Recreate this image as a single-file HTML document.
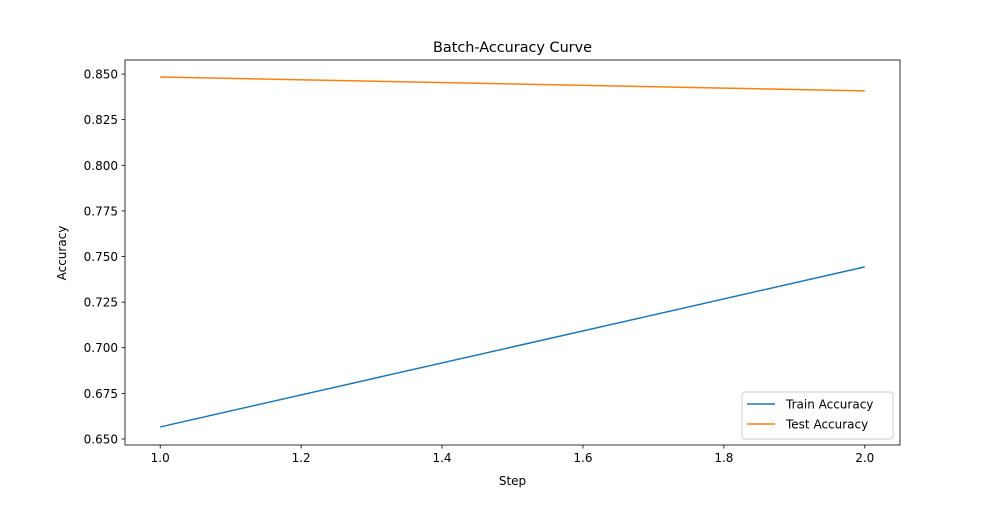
<!DOCTYPE html>
<html><head><meta charset="utf-8"><style>
body{margin:0;background:#fff;}
svg text{font-family:"DejaVu Sans","Liberation Sans",sans-serif;}
</style></head><body>
<svg width="1000" height="500" id="chart" xmlns="http://www.w3.org/2000/svg">
<rect width="1000" height="500" fill="#fff"/>
<g id="plot"></g>
</svg>
<script>
const steps=[1,2];
const trainAcc=[0.6566,0.7443];
const testAcc=[0.8484,0.8408];
const xTicks=[1.0,1.2,1.4,1.6,1.8,2.0];
const xTickLabels=["1.0","1.2","1.4","1.6","1.8","2.0"];
const yTicks=[0.650,0.675,0.700,0.725,0.750,0.775,0.800,0.825,0.850];
const yTickLabels=["0.650","0.675","0.700","0.725","0.750","0.775","0.800","0.825","0.850"];
const L=125,R=900,T=60,B=445;
const xmin=0.95,xmax=2.05,ymin=0.6467,ymax=0.8577;
const sx=v=>L+(v-xmin)/(xmax-xmin)*(R-L);
const sy=v=>B-(v-ymin)/(ymax-ymin)*(B-T);
const NS="http://www.w3.org/2000/svg";
const g=document.getElementById('plot');
function mk(t,a,txt){const e=document.createElementNS(NS,t);for(const k in a)e.setAttribute(k,a[k]);if(txt!==undefined)e.textContent=txt;g.appendChild(e);return e;}
let e;
xTicks.forEach((v,i)=>{
 e=mk('line',{x1:sx(v),x2:sx(v),y1:B,y2:B+3.5,stroke:'#000','stroke-width':0.8});
 
 
 e=mk('text',{x:sx(v),y:B+17,'font-size':12,'text-anchor':'middle'},xTickLabels[i]);
 
 
});
yTicks.forEach((v,i)=>{
 e=mk('line',{x1:L-3.5,x2:L,y1:sy(v),y2:sy(v),stroke:'#000','stroke-width':0.8});
 
 
 e=mk('text',{x:L-7,y:sy(v)+4.5,'font-size':12,'text-anchor':'end'},yTickLabels[i]);
 
 
});
function line(vals,color,name){
 const pts=steps.map((s,i)=>sx(s)+','+sy(vals[i])).join(' ');
 e=mk('polyline',{points:pts,fill:'none',stroke:color,'stroke-width':1.5});
 
 
}
line(trainAcc,'#1f77b4','train-accuracy-line');
line(testAcc,'#ff7f0e','test-accuracy-line');
e=mk('rect',{x:L,y:T,width:R-L,height:B-T,fill:'none',stroke:'#000','stroke-width':0.8});


e=mk('text',{x:(L+R)/2,y:T-8,'font-size':14.4,'text-anchor':'middle'},'Batch-Accuracy Curve');


e=mk('text',{x:(L+R)/2,y:485,'font-size':12,'text-anchor':'middle'},'Step');


e=mk('text',{x:0,y:0,'font-size':12,'text-anchor':'middle',transform:'translate(66,253) rotate(-90)'},'Accuracy');


e=mk('rect',{x:742,y:392,width:151,height:47,rx:3,fill:'#fff','fill-opacity':0.8,stroke:'#ccc','stroke-width':1});


e=mk('line',{x1:747,x2:775,y1:404,y2:404,stroke:'#1f77b4','stroke-width':1.5});


e=mk('text',{x:786,y:408.5,'font-size':12},'Train Accuracy');


e=mk('line',{x1:747,x2:775,y1:424,y2:424,stroke:'#ff7f0e','stroke-width':1.5});


e=mk('text',{x:786,y:428.5,'font-size':12},'Test Accuracy');


</script>
</body></html>
